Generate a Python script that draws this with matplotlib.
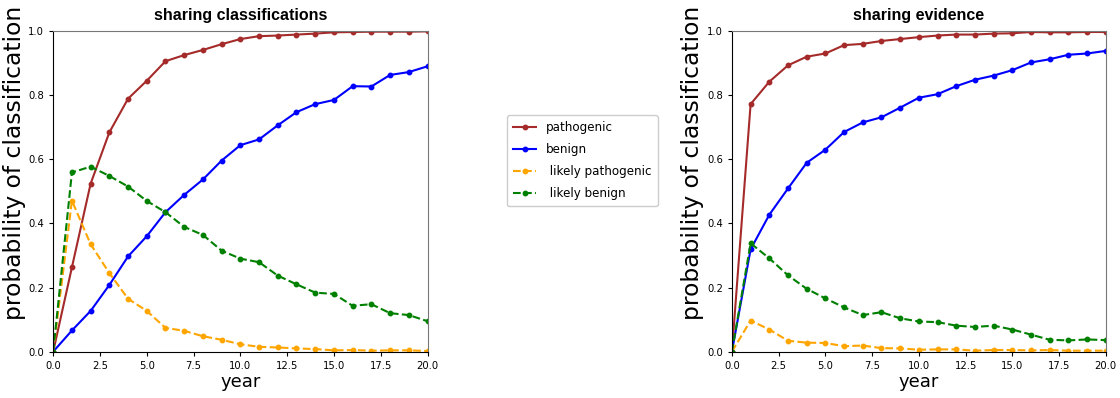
#!/usr/bin/env python3
"""Probability of classification over time, two sharing scenarios side by side."""

import matplotlib
matplotlib.use("Agg")
import matplotlib.pyplot as plt

YEARS = list(range(21))

# sharing classifications
CLS_PATHOGENIC = [0.0, 0.263, 0.524, 0.684, 0.789, 0.845, 0.906, 0.925, 0.941, 0.959, 0.975,
                  0.984, 0.986, 0.989, 0.992, 0.996, 0.997, 0.998, 0.998, 0.998, 0.999]
CLS_BENIGN = [0.0, 0.066, 0.127, 0.208, 0.297, 0.360, 0.435, 0.489, 0.537, 0.596, 0.644,
              0.662, 0.706, 0.747, 0.772, 0.785, 0.828, 0.827, 0.863, 0.872, 0.890]
CLS_LIKELY_PATHOGENIC = [0.0, 0.471, 0.335, 0.245, 0.165, 0.127, 0.074, 0.065, 0.048, 0.037, 0.023,
                         0.015, 0.013, 0.010, 0.008, 0.004, 0.005, 0.003, 0.004, 0.004, 0.002]
CLS_LIKELY_BENIGN = [0.0, 0.559, 0.577, 0.548, 0.515, 0.470, 0.435, 0.389, 0.364, 0.315, 0.290,
                     0.279, 0.237, 0.210, 0.184, 0.180, 0.143, 0.148, 0.120, 0.114, 0.095]

# sharing evidence
EVD_PATHOGENIC = [0.0, 0.772, 0.842, 0.893, 0.920, 0.930, 0.956, 0.960, 0.969, 0.975, 0.981,
                  0.986, 0.989, 0.989, 0.992, 0.993, 0.997, 0.996, 0.996, 0.997, 0.997]
EVD_BENIGN = [0.0, 0.319, 0.427, 0.509, 0.589, 0.630, 0.685, 0.715, 0.731, 0.761, 0.792,
              0.803, 0.828, 0.848, 0.861, 0.878, 0.902, 0.912, 0.926, 0.930, 0.938]
EVD_LIKELY_PATHOGENIC = [0.0, 0.097, 0.069, 0.034, 0.028, 0.027, 0.017, 0.019, 0.011, 0.010, 0.006,
                         0.007, 0.007, 0.003, 0.005, 0.005, 0.004, 0.005, 0.003, 0.003, 0.003]
EVD_LIKELY_BENIGN = [0.0, 0.338, 0.291, 0.238, 0.196, 0.166, 0.138, 0.114, 0.123, 0.104, 0.094,
                     0.092, 0.081, 0.077, 0.081, 0.069, 0.053, 0.037, 0.035, 0.038, 0.036]

LABELS = ["pathogenic", "benign", " likely pathogenic", " likely benign"]
COLORS = ["#a52a2a", "#0000ff", "#ffa500", "#008000"]
STYLES = ["-", "-", "--", "--"]

PANELS = [
    ("sharing classifications", [CLS_PATHOGENIC, CLS_BENIGN, CLS_LIKELY_PATHOGENIC, CLS_LIKELY_BENIGN]),
    ("sharing evidence", [EVD_PATHOGENIC, EVD_BENIGN, EVD_LIKELY_PATHOGENIC, EVD_LIKELY_BENIGN]),
]

fig = plt.figure(figsize=(11.2, 3.98), dpi=100)
positions = [
    [0.0475, 0.1165, 0.3342, 0.8055],
    [0.6535, 0.1165, 0.3338, 0.8055],
]

for pos, (title, series) in zip(positions, PANELS):
    ax = fig.add_axes(pos)
    for values, label, color, style in zip(series, LABELS, COLORS, STYLES):
        ax.plot(YEARS, values, linestyle=style, color=color, marker="o",
                markersize=3.2, linewidth=1.5, label=label)
    ax.set_xlim(0, 20)
    ax.set_ylim(0, 1.0)
    ax.set_xticks([0, 2.5, 5, 7.5, 10, 12.5, 15, 17.5, 20])
    ax.set_xticklabels([f"{t:.1f}" for t in ax.get_xticks()])
    ax.set_yticks([0, 0.2, 0.4, 0.6, 0.8, 1.0])
    ax.set_yticklabels([f"{t:.1f}" for t in ax.get_yticks()])
    ax.tick_params(labelsize=8, length=3)
    for lbl in ax.get_xticklabels() + ax.get_yticklabels():
        lbl.set_stretch("condensed")
    for side in ("top", "right"):
        ax.spines[side].set_color("#777777")
    ax.set_title(title, fontsize=11.5, fontweight="bold", family="Liberation Sans", pad=8)
    ax.set_xlabel("year", fontsize=13, labelpad=2)
    ax.set_ylabel("probability of classification", fontsize=16.8)
    ax.yaxis.set_label_coords(-0.074, 0.588)

handles, labels = ax.get_legend_handles_labels()
fig.legend(handles, labels, loc="upper left", bbox_to_anchor=(0.447, 0.725),
           fontsize=8.6, frameon=True, framealpha=1.0, edgecolor="#cccccc",
           handlelength=2.0, borderpad=0.5, labelspacing=0.75)

fig.savefig("out.png", dpi=100)
